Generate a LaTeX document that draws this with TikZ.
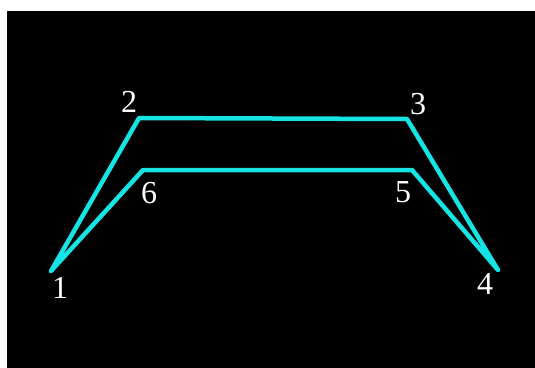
\documentclass[tikz,border=0pt]{standalone}
\usepackage{fontspec}
\setmainfont{Liberation Serif}
\definecolor{edgecyan}{RGB}{20,228,228}
\begin{document}
\begin{tikzpicture}[x=1pt,y=-1pt,
  edge/.style={draw=edgecyan,line width=4.5pt,line join=round,line cap=round},
  lbl/.style={text=white,inner sep=0pt,font=\fontsize{32}{32}\selectfont}]
\useasboundingbox (0,0) rectangle (535,367);
\fill[white] (0,0) rectangle (535,367);
\fill[black] (7,11) rectangle (545,377);
\coordinate (v1) at (51,271);
\coordinate (v2) at (139,118);
\coordinate (v3) at (407,119);
\coordinate (v4) at (498,270);
\coordinate (v5) at (412,170);
\coordinate (v6) at (143,170);
\draw[edge] (v1) -- (v2) -- (v3) -- (v4) -- (v5) -- (v6) -- cycle;
\node[lbl] (l1) at (60,288) {1};
\node[lbl] (l2) at (129,102) {2};
\node[lbl] (l3) at (418,104) {3};
\node[lbl] (l4) at (485,284) {4};
\node[lbl] (l5) at (403,192) {5};
\node[lbl] (l6) at (149,193) {6};
\end{tikzpicture}
\end{document}
